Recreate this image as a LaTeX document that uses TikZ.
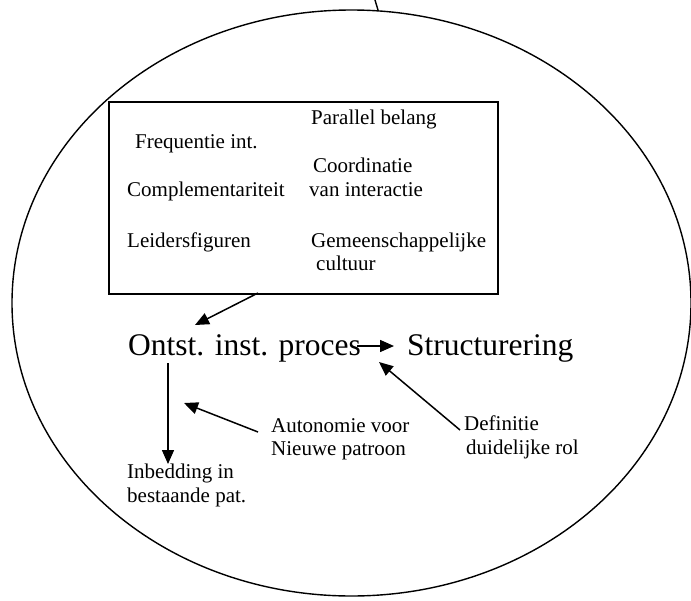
\documentclass[tikz,border=0pt]{standalone}
\usepackage{fontspec}
\setmainfont{Liberation Serif}
\usetikzlibrary{arrows.meta}
\tikzset{
  lbl/.style={anchor=base west, inner sep=0pt, font=\fontsize{21}{23}\selectfont},
  big/.style={anchor=base west, inner sep=0pt, font=\fontsize{31.5}{36}\selectfont},
  arr/.style={line width=1.5pt, -{Triangle[length=14pt, width=12pt]}},
  frame/.style={draw, line width=2pt, inner sep=0pt, anchor=north west},
  oval/.style={line width=1.4pt}
}
\begin{document}
\begin{tikzpicture}[x=1pt,y=-1pt]
\useasboundingbox (0,0) rectangle (691,600);
% big ellipse
\draw[oval] (351.5,303) ellipse [x radius=339.5, y radius=293];
\coordinate (ltop) at (375,0);
\coordinate (lbot) at (378,10);
\draw[oval] (lbot) -- (ltop);
% box
\node[frame, minimum width=389pt, minimum height=192pt] (box) at (108,101) {};
\node[lbl] (par) at (311,124) {Parallel belang};
\node[lbl] (freq) at (135,148) {Frequentie int.};
\node[lbl] (coord) at (313,172) {Coordinatie};
\node[lbl] (compl) at (127,196) {Complementariteit};
\node[lbl] (vanint) at (309,196) {van interactie};
\node[lbl] (leid) at (127,247) {Leidersfiguren};
\node[lbl] (gem) at (311,247) {Gemeenschappelijke};
\node[lbl] (cult) at (316,270) {cultuur};
% main line
\node[big] (ontst) at (128,355) {Ontst. inst. proces};
\node[big] (struct) at (407,355) {Structurering};
% lower labels
\node[lbl] (auto1) at (271,432) {Autonomie voor};
\node[lbl] (auto2) at (271,455) {Nieuwe patroon};
\node[lbl] (def1) at (464,430) {Definitie};
\node[lbl] (def2) at (466,454) {duidelijke rol};
\node[lbl] (inb1) at (127,478) {Inbedding in};
\node[lbl] (inb2) at (127,502) {bestaande pat.};
% connector end points
\coordinate (boxout) at (258,293);
\coordinate (ontstin) at (195,325);
\coordinate (procout) at (357,346);
\coordinate (structin) at (394,346);
\coordinate (downfrom) at (168,363);
\coordinate (downto) at (168,464);
\coordinate (autofrom) at (258,432);
\coordinate (autoto) at (184,403);
\coordinate (deffrom) at (460,430);
\coordinate (defto) at (379,362);
% connectors
\draw[arr] (boxout) -- (ontstin);
\draw[arr] (procout) -- (structin);
\draw[arr] (downfrom) -- (downto);
\draw[arr] (autofrom) -- (autoto);
\draw[arr] (deffrom) -- (defto);
\end{tikzpicture}
\end{document}
